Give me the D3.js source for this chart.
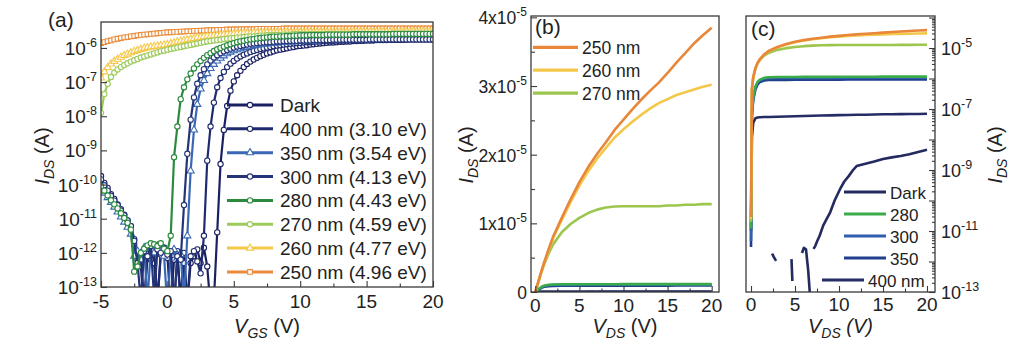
<!DOCTYPE html>
<html>
<head>
<meta charset="utf-8">
<script src="https://cdn.jsdelivr.net/npm/d3@7"></script>
<style>
  html, body { margin: 0; padding: 0; background: #fff; }
  svg { display: block; font-family: "Liberation Sans", Arial, Helvetica, sans-serif; }
</style>
</head>
<body>
<svg id="chart" width="1024" height="346"></svg>
<script>
// ---- (a) transfer curves: log10(I_DS) over the V_GS sweep, -5 V to 20 V in 0.25 V steps ----
const transferLabels = ['Dark', '400 nm (3.10 eV)', '350 nm (3.54 eV)', '300 nm (4.13 eV)',
                        '280 nm (4.43 eV)', '270 nm (4.59 eV)', '260 nm (4.77 eV)', '250 nm (4.96 eV)'];
const vgsSweep = d3.range(101).map(i => -5 + i * 0.25);

const logIdsDark = [
  -9.75, -9.95, -10.10, -10.28,  -10.42, -10.58, -10.72, -10.88,  -11.05, -11.22, -11.60, -12.20,
  -12.40, -13.60, -12.10, -11.90,  -12.30, -13.50, -12.00, -11.85,  -12.10, -13.60, -12.20, -11.95,
  -13.40, -12.00, -13.50, -12.30,  -12.10, -11.90, -12.30, -11.85,  -12.40, -13.60, -13.40, -11.40,
  -9.40, -8.40, -7.70, -7.25,  -6.98, -6.80, -6.67, -6.56,  -6.47, -6.40, -6.34, -6.29,
  -6.24, -6.20, -6.16, -6.13,  -6.10, -6.07, -6.05, -6.03,  -6.01, -5.99, -5.97, -5.95,
  -5.94, -5.93, -5.92, -5.90,  -5.89, -5.88, -5.87, -5.86,  -5.85, -5.84, -5.84, -5.83,
  -5.82, -5.82, -5.81, -5.81,  -5.80, -5.80, -5.79, -5.79,  -5.78, -5.78, -5.78, -5.77,
  -5.77, -5.77, -5.77, -5.76,  -5.76, -5.76, -5.76, -5.76,  -5.75, -5.75, -5.75, -5.75,
  -5.75, -5.75, -5.75, -5.75,  -5.75];
const logIds400 = [
  -9.90, -10.05, -10.22, -10.38,  -10.50, -10.66, -10.82, -10.97,  -11.12, -11.30, -11.75, -12.35,
  -12.05, -13.50, -11.95, -12.20,  -11.88, -13.40, -12.05, -11.90,  -12.15, -11.95, -13.60, -12.05,
  -13.50, -12.30, -13.40, -12.10,  -11.95, -12.25, -12.60, -11.50,  -9.30, -8.30, -7.60, -7.15,
  -6.88, -6.70, -6.56, -6.46,  -6.38, -6.31, -6.25, -6.20,  -6.16, -6.12, -6.09, -6.06,
  -6.03, -6.01, -5.99, -5.97,  -5.95, -5.93, -5.92, -5.90,  -5.89, -5.88, -5.87, -5.86,
  -5.85, -5.84, -5.83, -5.83,  -5.82, -5.81, -5.81, -5.80,  -5.80, -5.79, -5.79, -5.78,
  -5.78, -5.78, -5.77, -5.77,  -5.77, -5.77, -5.76, -5.76,  -5.76, -5.76, -5.76, -5.75,
  -5.75, -5.75, -5.75, -5.75,  -5.75, -5.75, -5.75, -5.75,  -5.75, -5.74, -5.74, -5.74,
  -5.74, -5.74, -5.74, -5.74,  -5.74];
const logIds350 = [
  -10.10, -10.25, -10.38, -10.52,  -10.66, -10.80, -10.95, -11.10,  -11.25, -11.45, -12.10, -11.95,
  -12.20, -11.85, -13.40, -11.90,  -12.00, -11.80, -11.95, -12.10,  -13.60, -12.00, -11.90, -12.15,
  -12.05, -13.40, -11.50, -9.60,  -8.40, -7.65, -7.20, -6.95,  -6.75, -6.60, -6.48, -6.38,
  -6.30, -6.23, -6.17, -6.12,  -6.08, -6.05, -6.02, -5.99,  -5.97, -5.95, -5.93, -5.91,
  -5.90, -5.89, -5.88, -5.87,  -5.86, -5.85, -5.84, -5.84,  -5.83, -5.82, -5.82, -5.81,
  -5.81, -5.80, -5.80, -5.79,  -5.79, -5.79, -5.78, -5.78,  -5.78, -5.78, -5.77, -5.77,
  -5.77, -5.77, -5.76, -5.76,  -5.76, -5.76, -5.76, -5.76,  -5.76, -5.76, -5.75, -5.75,
  -5.75, -5.75, -5.75, -5.75,  -5.75, -5.75, -5.75, -5.75,  -5.75, -5.75, -5.75, -5.75,
  -5.75, -5.75, -5.75, -5.75,  -5.75];
const logIds300 = [
  -9.85, -10.02, -10.18, -10.33,  -10.47, -10.60, -10.76, -10.90,  -11.05, -11.22, -11.65, -12.30,
  -13.40, -11.95, -12.10, -11.80,  -13.30, -11.90, -12.00, -11.85,  -12.05, -11.95, -13.50, -12.10,
  -12.20, -10.60, -9.10, -8.10,  -7.45, -7.05, -6.80, -6.62,  -6.48, -6.37, -6.28, -6.21,
  -6.15, -6.10, -6.06, -6.02,  -5.99, -5.96, -5.94, -5.92,  -5.90, -5.88, -5.87, -5.86,
  -5.85, -5.84, -5.83, -5.83,  -5.82, -5.81, -5.81, -5.80,  -5.80, -5.79, -5.79, -5.79,
  -5.78, -5.78, -5.78, -5.78,  -5.77, -5.77, -5.77, -5.77,  -5.77, -5.77, -5.76, -5.76,
  -5.76, -5.76, -5.76, -5.76,  -5.76, -5.76, -5.76, -5.76,  -5.76, -5.75, -5.75, -5.75,
  -5.75, -5.75, -5.75, -5.75,  -5.75, -5.75, -5.75, -5.75,  -5.75, -5.75, -5.75, -5.75,
  -5.75, -5.75, -5.75, -5.75,  -5.75];
const logIds280 = [
  -10.05, -10.18, -10.32, -10.46,  -10.58, -10.70, -10.84, -10.98,  -11.12, -11.32, -12.55, -12.40,
  -12.00, -11.88, -11.78, -11.72,  -11.75, -11.80, -11.72, -11.88,  -11.95, -11.50, -9.20, -8.30,
  -7.50, -7.15, -6.92, -6.75,  -6.60, -6.48, -6.38, -6.29,  -6.21, -6.15, -6.09, -6.04,
  -6.00, -5.96, -5.92, -5.89,  -5.86, -5.83, -5.81, -5.79,  -5.77, -5.75, -5.74, -5.72,
  -5.71, -5.70, -5.69, -5.68,  -5.67, -5.67, -5.66, -5.66,  -5.65, -5.65, -5.64, -5.64,
  -5.63, -5.63, -5.63, -5.62,  -5.62, -5.62, -5.62, -5.62,  -5.61, -5.61, -5.61, -5.61,
  -5.61, -5.61, -5.61, -5.61,  -5.60, -5.60, -5.60, -5.60,  -5.60, -5.60, -5.60, -5.60,
  -5.60, -5.60, -5.60, -5.60,  -5.59, -5.59, -5.59, -5.59,  -5.59, -5.59, -5.59, -5.59,
  -5.59, -5.59, -5.59, -5.59,  -5.59];
const logIds270 = [
  -7.90, -7.35, -7.05, -6.85,  -6.72, -6.63, -6.56, -6.50,  -6.45, -6.40, -6.36, -6.32,
  -6.28, -6.25, -6.22, -6.19,  -6.16, -6.13, -6.10, -6.08,  -6.05, -6.03, -6.01, -5.99,
  -5.97, -5.95, -5.93, -5.91,  -5.89, -5.87, -5.85, -5.83,  -5.81, -5.80, -5.78, -5.77,
  -5.76, -5.74, -5.73, -5.72,  -5.71, -5.70, -5.69, -5.68,  -5.67, -5.66, -5.66, -5.65,
  -5.64, -5.64, -5.63, -5.63,  -5.62, -5.62, -5.62, -5.61,  -5.61, -5.61, -5.60, -5.60,
  -5.60, -5.60, -5.60, -5.60,  -5.60, -5.60, -5.60, -5.60,  -5.59, -5.59, -5.59, -5.59,
  -5.59, -5.59, -5.59, -5.59,  -5.59, -5.59, -5.59, -5.59,  -5.59, -5.59, -5.59, -5.59,
  -5.59, -5.59, -5.59, -5.59,  -5.58, -5.58, -5.58, -5.58,  -5.58, -5.58, -5.58, -5.58,
  -5.58, -5.58, -5.58, -5.58,  -5.58];
const logIds260 = [
  -6.88, -6.70, -6.57, -6.47,  -6.39, -6.33, -6.27, -6.22,  -6.18, -6.14, -6.10, -6.07,
  -6.04, -6.01, -5.99, -5.97,  -5.96, -5.94, -5.93, -5.91,  -5.90, -5.87, -5.85, -5.82,
  -5.80, -5.78, -5.76, -5.74,  -5.72, -5.70, -5.69, -5.67,  -5.66, -5.65, -5.64, -5.63,
  -5.62, -5.61, -5.60, -5.60,  -5.59, -5.58, -5.58, -5.57,  -5.57, -5.57, -5.56, -5.56,
  -5.56, -5.56, -5.55, -5.55,  -5.55, -5.55, -5.55, -5.55,  -5.55, -5.55, -5.55, -5.55,
  -5.54, -5.54, -5.54, -5.54,  -5.54, -5.54, -5.54, -5.54,  -5.54, -5.54, -5.54, -5.54,
  -5.54, -5.54, -5.54, -5.54,  -5.53, -5.53, -5.53, -5.53,  -5.53, -5.53, -5.53, -5.53,
  -5.53, -5.53, -5.53, -5.53,  -5.53, -5.53, -5.53, -5.53,  -5.52, -5.52, -5.52, -5.52,
  -5.52, -5.52, -5.52, -5.52,  -5.52];
const logIds250 = [
  -5.86, -5.83, -5.80, -5.78,  -5.75, -5.73, -5.71, -5.69,  -5.68, -5.66, -5.65, -5.63,
  -5.62, -5.61, -5.60, -5.59,  -5.58, -5.57, -5.56, -5.55,  -5.54, -5.54, -5.53, -5.53,
  -5.52, -5.52, -5.51, -5.51,  -5.50, -5.50, -5.49, -5.49,  -5.48, -5.48, -5.48, -5.47,
  -5.47, -5.47, -5.46, -5.46,  -5.46, -5.46, -5.45, -5.45,  -5.45, -5.45, -5.45, -5.44,
  -5.44, -5.44, -5.44, -5.44,  -5.44, -5.44, -5.44, -5.43,  -5.43, -5.43, -5.43, -5.43,
  -5.43, -5.43, -5.43, -5.43,  -5.43, -5.43, -5.43, -5.43,  -5.43, -5.43, -5.43, -5.43,
  -5.43, -5.43, -5.43, -5.43,  -5.43, -5.43, -5.43, -5.43,  -5.43, -5.43, -5.43, -5.43,
  -5.43, -5.43, -5.43, -5.43,  -5.43, -5.43, -5.43, -5.43,  -5.43, -5.43, -5.43, -5.43,
  -5.43, -5.43, -5.43, -5.43,  -5.43];

const transferLogs = [logIdsDark, logIds400, logIds350, logIds300, logIds280, logIds270, logIds260, logIds250];
const transferColors = ['#1a2163', '#1f2b6e', '#3a68b4', '#243478', '#2b8a3e', '#9dca5c', '#f5c84a', '#ea8c3c'];
const transferSymbols = [d3.symbolCircle, d3.symbolCircle, d3.symbolTriangle, d3.symbolCircle,
                         d3.symbolCircle, d3.symbolCircle, d3.symbolTriangle, d3.symbolSquare];

// ---- (b), (c) output curves: I_DS (A) vs V_DS ----
const vdsGrid = [0, 0.1, 0.25, 0.5, 0.75, 1, 1.5, 2, 3, 4, 5, 6, 7, 8, 9, 10, 11, 12, 13, 14, 15, 16, 17, 18, 19, 20];
const ids250 = [2.9e-11, 4.5e-7, 1.1e-6, 2.2e-6, 3.3e-6, 4.3e-6, 6.2e-6, 8.0e-6, 1.08e-5, 1.35e-5, 1.60e-5, 1.82e-5, 2.01e-5,
                2.18e-5, 2.36e-5, 2.51e-5, 2.66e-5, 2.80e-5, 2.93e-5, 3.05e-5, 3.19e-5, 3.34e-5, 3.48e-5, 3.62e-5, 3.74e-5, 3.85e-5];
const ids260 = [2.5e-11, 4.4e-7, 1.08e-6, 2.15e-6, 3.2e-6, 4.2e-6, 6.0e-6, 7.8e-6, 1.05e-5, 1.31e-5, 1.55e-5, 1.76e-5, 1.94e-5,
                2.10e-5, 2.25e-5, 2.37e-5, 2.48e-5, 2.58e-5, 2.67e-5, 2.75e-5, 2.81e-5, 2.87e-5, 2.91e-5, 2.95e-5, 2.99e-5, 3.02e-5];
const ids270 = [2.0e-11, 4.2e-7, 1.05e-6, 2.1e-6, 3.1e-6, 4.0e-6, 5.6e-6, 6.9e-6, 8.7e-6, 9.9e-6, 1.08e-5, 1.15e-5, 1.20e-5,
                1.23e-5, 1.245e-5, 1.25e-5, 1.25e-5, 1.25e-5, 1.25e-5, 1.25e-5, 1.26e-5, 1.26e-5, 1.27e-5, 1.27e-5, 1.28e-5, 1.28e-5];
const ids280 = [1.2e-11, 8.0e-8, 2.5e-7, 5.5e-7, 7.8e-7, 9.2e-7, 1.05e-6, 1.10e-6, 1.12e-6, 1.12e-6, 1.12e-6, 1.13e-6, 1.13e-6,
                1.13e-6, 1.13e-6, 1.14e-6, 1.14e-6, 1.14e-6, 1.14e-6, 1.14e-6, 1.15e-6, 1.15e-6, 1.15e-6, 1.15e-6, 1.15e-6, 1.15e-6];
const ids300 = [4.7e-12, 7.0e-8, 2.3e-7, 5.0e-7, 7.2e-7, 8.6e-7, 9.8e-7, 1.02e-6, 1.04e-6, 1.04e-6, 1.04e-6, 1.05e-6, 1.05e-6,
                1.05e-6, 1.05e-6, 1.05e-6, 1.06e-6, 1.06e-6, 1.06e-6, 1.06e-6, 1.06e-6, 1.06e-6, 1.06e-6, 1.06e-6, 1.06e-6, 1.06e-6];
const ids350 = [3.0e-12, 6.0e-8, 2.0e-7, 4.4e-7, 6.4e-7, 7.6e-7, 8.6e-7, 8.9e-7, 9.0e-7, 9.0e-7, 9.1e-7, 9.1e-7, 9.1e-7,
                9.2e-7, 9.2e-7, 9.2e-7, 9.3e-7, 9.3e-7, 9.3e-7, 9.3e-7, 9.3e-7, 9.4e-7, 9.4e-7, 9.4e-7, 9.4e-7, 9.4e-7];
const ids400 = [1.0e-11, 1.2e-8, 3.5e-8, 5.0e-8, 5.3e-8, 5.4e-8, 5.5e-8, 5.5e-8, 5.6e-8, 5.7e-8, 5.8e-8, 5.9e-8, 6.0e-8,
                6.1e-8, 6.2e-8, 6.3e-8, 6.4e-8, 6.5e-8, 6.5e-8, 6.6e-8, 6.7e-8, 6.7e-8, 6.8e-8, 6.9e-8, 6.9e-8, 7.0e-8];
// dark current is noisy; null = reading below zero (not shown on log axis)
const darkVds = [2.4, 2.6, 2.85, 3.0, 4.6, 4.7, 4.8, 5.8, 6.0, 6.25, 6.5, 6.75, 6.9, 7.1, 7.3, 7.5, 7.8, 8.2, 8.6,
                 9.0, 9.5, 10.1, 10.6, 11.1, 11.6, 12.0, 13, 14, 15, 16, 17, 18, 19, 20];
const darkIds = [1.8e-12, 1.4e-12, 1.05e-12, null, 1.2e-12, 2.3e-13, null, 1.9e-12, 2.8e-12, 2.5e-12, 5e-13, 5e-14, null,
                 2.6e-12, 3.2e-12, 4.5e-12, 7e-12, 1.5e-11, 2.5e-11, 4.1e-11, 1.0e-10, 2.3e-10, 4.2e-10, 6.3e-10, 1.0e-9,
                 1.35e-9, 1.6e-9, 1.9e-9, 2.3e-9, 2.6e-9, 2.9e-9, 3.3e-9, 3.9e-9, 4.6e-9];

const outputColors = { dark: '#222a5e', w400: '#262c66', w350: '#203f8c', w300: '#2f5fae',
                       w280: '#3aab48', w270: '#9cc64e', w260: '#f3c84a', w250: '#e8873a' };
const legendBLabels = ['250 nm', '260 nm', '270 nm'];
const legendCLabels = ['Dark', '280', '300', '350', '400 nm'];

// ------------------------------------------------------------------
const svg = d3.select('#chart');
const ink = '#222';
const frameInk = '#3a3a3a';

function styleTicks(g) {
  g.select('.domain').remove();
  g.selectAll('.tick line').attr('stroke', frameInk).attr('stroke-width', 1.1);
}

function drawFrame(x0, y0, x1, y1) {
  svg.append('rect').attr('x', x0).attr('y', y0).attr('width', x1 - x0).attr('height', y1 - y0)
    .attr('fill', 'none').attr('stroke', frameInk).attr('stroke-width', 1.3);
}

function clipRect(id, x0, y0, x1, y1) {
  svg.append('clipPath').attr('id', id).append('rect')
    .attr('x', x0).attr('y', y0).attr('width', x1 - x0).attr('height', y1 - y0);
  return 'url(#' + id + ')';
}

// "10" with a raised exponent
function powLabel(text, base, exp, supSize) {
  text.append('tspan').text(base);
  text.append('tspan').attr('dy', -8).attr('font-size', supSize).text(exp);
}

function axisTitle(x, y, rotate, main, sub, unit, italicUnit) {
  const size = 20;
  const t = svg.append('text')
    .attr('transform', `translate(${x},${y})` + (rotate ? ' rotate(-90)' : ''))
    .attr('text-anchor', 'middle').attr('font-size', size).attr('fill', ink);
  t.append('tspan').attr('font-style', 'italic').text(main);
  t.append('tspan').attr('font-style', 'italic').attr('font-size', 14).attr('dy', 5).text(sub);
  t.append('tspan').attr('dy', -5).attr('font-style', italicUnit ? 'italic' : 'normal').text(' (' + unit + ')');
}

function xTickLabels(scale, values, baseline) {
  svg.append('g').selectAll('text').data(values).join('text')
    .attr('x', d => scale(d)).attr('y', baseline)
    .attr('text-anchor', 'middle').attr('font-size', 19).attr('fill', ink)
    .text(d => String(d));
}

// ================= panel (a) =================
const A = { x0: 101, y0: 22, x1: 433, y1: 287 };
const xA = d3.scaleLinear().domain([-5, 20]).range([A.x0, A.x1]);
const yA = d3.scaleLog().domain([1e-13, Math.pow(10, -5.24)]).range([A.y1, A.y0]);
const clipA = clipRect('clipA', A.x0, A.y0, A.x1, A.y1);

const plotA = svg.append('g').attr('clip-path', clipA);
const lineA = d3.line().x(d => xA(d[0])).y(d => yA(d[1]));
const drawOrderA = [7, 6, 5, 0, 1, 2, 3, 4];
drawOrderA.forEach(k => {
  const pts = vgsSweep.map((v, i) => [v, Math.pow(10, transferLogs[k][i])]);
  const g = plotA.append('g');
  g.append('path').datum(pts).attr('d', lineA)
    .attr('fill', 'none').attr('stroke', transferColors[k]).attr('stroke-width', 2.2)
    .attr('stroke-linejoin', 'round');
  g.selectAll('path.mk').data(pts).join('path').attr('class', 'mk')
    .attr('d', d3.symbol(transferSymbols[k], 22))
    .attr('transform', d => `translate(${xA(d[0])},${yA(d[1])})`)
    .attr('fill', '#fff').attr('stroke', transferColors[k]).attr('stroke-width', 1.1);
});

drawFrame(A.x0, A.y0, A.x1, A.y1);
svg.append('g').attr('transform', `translate(0,${A.y1})`)
  .call(d3.axisBottom(xA).tickValues([-5, 0, 5, 10, 15, 20]).tickSize(-6).tickFormat('')).call(styleTicks);
svg.append('g').attr('transform', `translate(0,${A.y1})`)
  .call(d3.axisBottom(xA).tickValues([-2.5, 2.5, 7.5, 12.5, 17.5]).tickSize(-3.5).tickFormat('')).call(styleTicks);
const decadesA = d3.range(-13, -5).map(e => Math.pow(10, e));
svg.append('g').attr('transform', `translate(${A.x0},0)`)
  .call(d3.axisLeft(yA).tickValues(decadesA).tickSize(-6).tickFormat('')).call(styleTicks);
svg.append('g').selectAll('text').data(d3.range(-13, -5)).join('text')
  .attr('x', A.x0 - 4).attr('y', e => yA(Math.pow(10, e)) + 7)
  .attr('text-anchor', 'end').attr('font-size', 19).attr('fill', ink)
  .each(function (e) { powLabel(d3.select(this), '10', String(e), 12.5); });
xTickLabels(xA, [-5, 0, 5, 10, 15, 20], 308);
axisTitle(A.x0 + (A.x1 - A.x0) / 2, 333, false, 'V', 'GS', 'V', false);
axisTitle(49, 156, true, 'I', 'DS', 'A', false);
svg.append('text').attr('x', 48).attr('y', 27).attr('font-size', 21).attr('fill', ink).text('(a)');

// legend (a)
const legA = svg.append('g');
transferLabels.forEach((lab, k) => {
  const y = 105 + k * 23.85;
  legA.append('line').attr('x1', 227).attr('x2', 273).attr('y1', y).attr('y2', y)
    .attr('stroke', transferColors[k]).attr('stroke-width', 3);
  legA.append('path').attr('d', d3.symbol(transferSymbols[k], 22)).attr('transform', `translate(250,${y})`)
    .attr('fill', '#fff').attr('stroke', transferColors[k]).attr('stroke-width', 1.1);
  legA.append('text').attr('x', 280).attr('y', y + 7).attr('font-size', 19).attr('fill', ink).text(lab);
});

// ================= output series (b, c) =================
const outputSeries = [
  { pts: darkVds.map((v, i) => [v, darkIds[i]]), color: outputColors.dark },
  { pts: vdsGrid.map((v, i) => [v, ids400[i]]), color: outputColors.w400 },
  { pts: vdsGrid.map((v, i) => [v, ids350[i]]), color: outputColors.w350 },
  { pts: vdsGrid.map((v, i) => [v, ids300[i]]), color: outputColors.w300 },
  { pts: vdsGrid.map((v, i) => [v, ids280[i]]), color: outputColors.w280 },
  { pts: vdsGrid.map((v, i) => [v, ids270[i]]), color: outputColors.w270 },
  { pts: vdsGrid.map((v, i) => [v, ids260[i]]), color: outputColors.w260 },
  { pts: vdsGrid.map((v, i) => [v, ids250[i]]), color: outputColors.w250 }
];

// ================= panel (b) =================
const B = { x0: 531, y0: 16, x1: 719, y1: 292 };
const xB = d3.scaleLinear().domain([-0.49, 20.83]).range([B.x0, B.x1]);
const yB = d3.scaleLinear().domain([0, 4.02e-5]).range([B.y1, B.y0]);
const plotB = svg.append('g').attr('clip-path', clipRect('clipB', B.x0, B.y0, B.x1, B.y1));
const lineB = d3.line().defined(d => d[1] != null).x(d => xB(d[0])).y(d => yB(d[1]));
outputSeries.forEach(s => {
  plotB.append('path').datum(s.pts).attr('d', lineB).attr('fill', 'none')
    .attr('stroke', s.color).attr('stroke-width', 2.6).attr('stroke-linejoin', 'round');
});
drawFrame(B.x0, B.y0, B.x1, B.y1);
svg.append('g').attr('transform', `translate(0,${B.y1})`)
  .call(d3.axisBottom(xB).tickValues([0, 5, 10, 15, 20]).tickSize(-6).tickFormat('')).call(styleTicks);
svg.append('g').attr('transform', `translate(0,${B.y1})`)
  .call(d3.axisBottom(xB).tickValues([2.5, 7.5, 12.5, 17.5]).tickSize(-3.5).tickFormat('')).call(styleTicks);
svg.append('g').attr('transform', `translate(${B.x0},0)`)
  .call(d3.axisLeft(yB).tickValues([0, 1e-5, 2e-5, 3e-5, 4e-5]).tickSize(-6).tickFormat('')).call(styleTicks);
svg.append('g').attr('transform', `translate(${B.x0},0)`)
  .call(d3.axisLeft(yB).tickValues([0.5e-5, 1.5e-5, 2.5e-5, 3.5e-5]).tickSize(-4).tickFormat('')).call(styleTicks);
svg.append('g').selectAll('text').data([0, 1, 2, 3, 4]).join('text')
  .attr('x', B.x0 - 4).attr('y', m => yB(m * 1e-5) + 7)
  .attr('text-anchor', 'end').attr('font-size', 17.5).attr('fill', ink)
  .each(function (m) {
    if (m === 0) d3.select(this).text('0');
    else powLabel(d3.select(this), m + 'x10', '-5', 12);
  });
xTickLabels(xB, [0, 5, 10, 15, 20], 312);
axisTitle(B.x0 + (B.x1 - B.x0) / 2, 333, false, 'V', 'DS', 'V', false);
axisTitle(473, 155, true, 'I', 'DS', 'A', false);
svg.append('text').attr('x', 535).attr('y', 34).attr('font-size', 21).attr('fill', ink).text('(b)');

const legB = svg.append('g');
[outputColors.w250, outputColors.w260, outputColors.w270].forEach((c, k) => {
  const y = 47.3 + k * 22.9;
  legB.append('line').attr('x1', 533).attr('x2', 578).attr('y1', y).attr('y2', y)
    .attr('stroke', c).attr('stroke-width', 3.2);
  legB.append('text').attr('x', 582).attr('y', y + 6.5).attr('font-size', 17.5).attr('fill', ink).text(legendBLabels[k]);
});

// ================= panel (c) =================
const C = { x0: 746, y0: 16, x1: 935, y1: 292 };
const xC = d3.scaleLinear().domain([-0.57, 20.91]).range([C.x0, C.x1]);
const yC = d3.scaleLog().domain([1e-13, Math.pow(10, -3.95)]).range([C.y1, C.y0]);
const plotC = svg.append('g').attr('clip-path', clipRect('clipC', C.x0, C.y0, C.x1, C.y1));
const lineC = d3.line().defined(d => d[1] != null && d[1] > 0).x(d => xC(d[0])).y(d => yC(d[1]));
outputSeries.forEach(s => {
  plotC.append('path').datum(s.pts).attr('d', lineC).attr('fill', 'none')
    .attr('stroke', s.color).attr('stroke-width', 2.6).attr('stroke-linejoin', 'round');
});
drawFrame(C.x0, C.y0, C.x1, C.y1);
svg.append('g').attr('transform', `translate(0,${C.y1})`)
  .call(d3.axisBottom(xC).tickValues([0, 5, 10, 15, 20]).tickSize(-6).tickFormat('')).call(styleTicks);
svg.append('g').attr('transform', `translate(0,${C.y1})`)
  .call(d3.axisBottom(xC).tickValues([2.5, 7.5, 12.5, 17.5]).tickSize(-3.5).tickFormat('')).call(styleTicks);
const decadesC = d3.range(-13, -3).map(e => Math.pow(10, e));
const minorC = [];
d3.range(-13, -4).forEach(e => d3.range(2, 10).forEach(m => minorC.push(m * Math.pow(10, e))));
svg.append('g').attr('transform', `translate(${C.x1},0)`)
  .call(d3.axisRight(yC).tickValues(decadesC).tickSize(-6).tickFormat('')).call(styleTicks);
svg.append('g').attr('transform', `translate(${C.x1},0)`)
  .call(d3.axisRight(yC).tickValues(minorC).tickSize(-3).tickFormat('')).call(styleTicks);
svg.append('g').selectAll('text').data([-13, -11, -9, -7, -5]).join('text')
  .attr('x', C.x1 + 6).attr('y', e => yC(Math.pow(10, e)) + 7)
  .attr('font-size', 18).attr('fill', ink)
  .each(function (e) { powLabel(d3.select(this), '10', String(e), 12.5); });
xTickLabels(xC, [0, 5, 10, 15, 20], 311);
axisTitle(C.x0 + (C.x1 - C.x0) / 2, 333, false, 'V', 'DS', 'V', true);
axisTitle(1002, 155, true, 'I', 'DS', 'A', false);
svg.append('text').attr('x', 751).attr('y', 36).attr('font-size', 21).attr('fill', ink).text('(c)');

const legC = svg.append('g');
const legCColors = [outputColors.dark, outputColors.w280, outputColors.w300, outputColors.w350, outputColors.w400];
legendCLabels.forEach((lab, k) => {
  const y = 192 + k * 22;
  const tx = k === 4 ? 868 : 890;
  legC.append('line').attr('x1', tx - 46).attr('x2', tx - 4).attr('y1', y).attr('y2', y)
    .attr('stroke', legCColors[k]).attr('stroke-width', 3.2);
  legC.append('text').attr('x', tx).attr('y', y + 6.5).attr('font-size', 17).attr('fill', ink).text(lab);
});
</script>
</body>
</html>
